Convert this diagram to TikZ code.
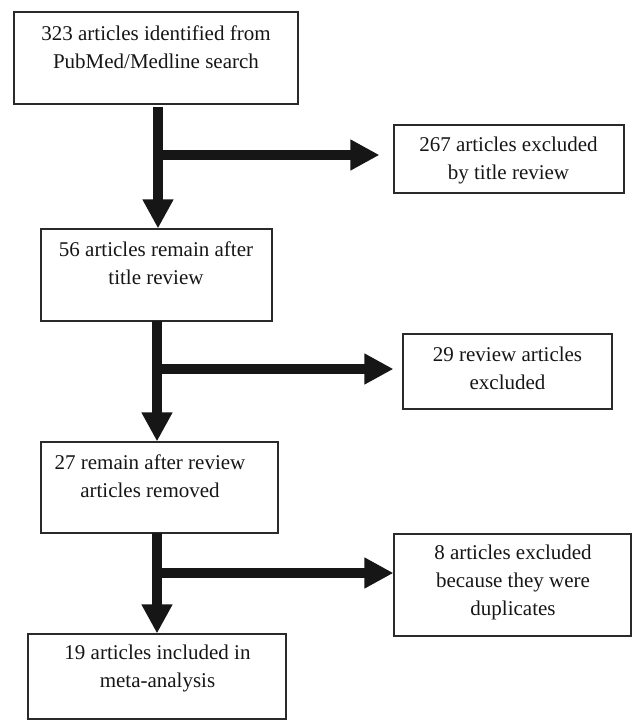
\documentclass[tikz,border=0pt]{standalone}
\usepackage{fontspec}
\setmainfont{Liberation Serif}
\usetikzlibrary{arrows.meta,calc}
\definecolor{ink}{HTML}{161616}
\definecolor{frame}{HTML}{2A2A2A}
\begin{document}
\begin{tikzpicture}[x=1pt,y=-1pt,
  box/.style={draw=frame,line width=1.1pt,inner sep=0pt,fill=none},
  txt/.style={align=center,inner sep=0pt,text=ink,font=\fontsize{21}{28}\selectfont},
  flow/.style={draw=ink,line width=9.5pt,-{Triangle[width=29pt,length=29pt]}}]
\useasboundingbox (0,0) rectangle (632,720);
% boxes
\node[box,minimum width=284pt,minimum height=92pt] (b1) at (156,58) {};
\node[box,minimum width=230pt,minimum height=68pt] (b2) at (509,159) {};
\node[box,minimum width=231pt,minimum height=92pt] (b3) at (156.5,275) {};
\node[box,minimum width=209pt,minimum height=75pt] (b4) at (507.5,371.5) {};
\node[box,minimum width=237pt,minimum height=91pt] (b5) at (159.5,487.5) {};
\node[box,minimum width=237pt,minimum height=102pt] (b6) at (512.5,585) {};
\node[box,minimum width=258pt,minimum height=85pt] (b7) at (157,676.5) {};
% texts
\node[txt] (t1) at (156,47) {323 articles identified from\\PubMed/Medline search};
\node[txt] (t2) at (508.5,160) {267 articles excluded\\by title review};
\node[txt] (t3) at (156,263.5) {56 articles remain after\\title review};
\node[txt] (t4) at (507.5,368) {29 review articles\\excluded};
\node[txt] (t5) at (150,476) {27 remain after review\\articles removed};
\node[txt] (t6) at (513,582) {8 articles excluded\\because they were\\duplicates};
\node[txt] (t7) at (157.5,668.5) {19 articles included in\\meta-analysis};
% junctions on the shafts
\coordinate (s1) at (158,107);
\coordinate (j1) at (158,155);
\coordinate (s2) at (157,321);
\coordinate (j2) at (157,369);
\coordinate (s3) at (157,533);
\coordinate (j3) at (157,573);
% vertical flows
\draw[flow] (s1) -- (s1 |- b3.north);
\draw[flow] (s2) -- (s2 |- b5.north);
\draw[flow] (s3) -- (s3 |- b7.north);
% side branches
\draw[flow] (j1) -- ($(j1 -| b2.west)+(-14,0)$);
\draw[flow] (j2) -- ($(j2 -| b4.west)+(-9,0)$);
\draw[flow] (j3) -- (j3 -| b6.west);
\end{tikzpicture}
\end{document}
